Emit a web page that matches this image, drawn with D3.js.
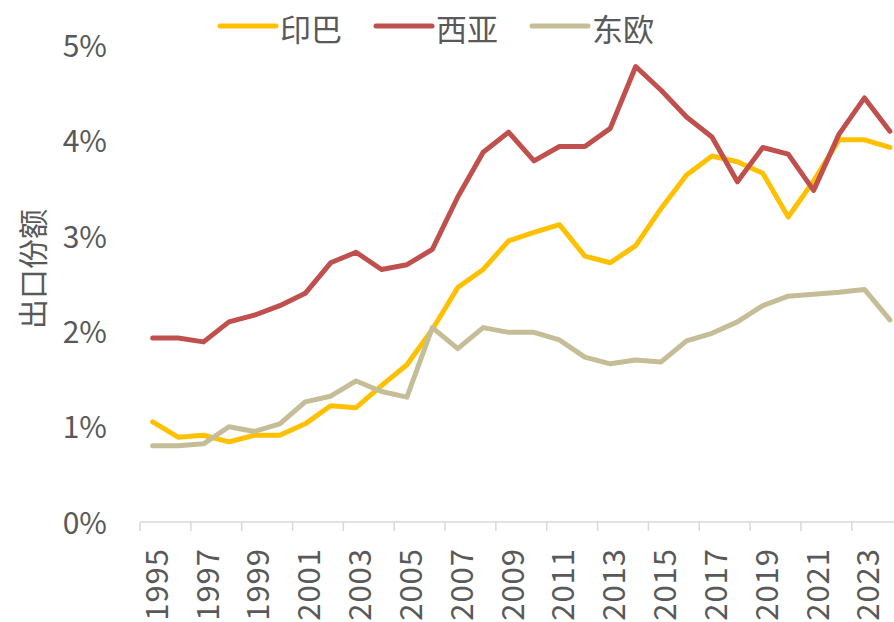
<!DOCTYPE html>
<html>
<head>
<meta charset="utf-8">
<script src="https://cdn.jsdelivr.net/npm/d3@7"></script>
<style>
  html, body { margin: 0; padding: 0; background: #fff; }
  svg { display: block; }
  text { font-family: "Noto Sans CJK SC", "Noto Sans", sans-serif; fill: #595959; }
</style>
</head>
<body>
<svg id="chart" width="894" height="622"></svg>
<script>
const years = d3.range(1995, 2025);
const yinba = [1.05, 0.89, 0.91, 0.84, 0.91, 0.91, 1.03, 1.22, 1.20, 1.43,
               1.65, 2.02, 2.46, 2.65, 2.95, 3.04, 3.12, 2.79, 2.72, 2.90,
               3.29, 3.64, 3.84, 3.78, 3.66, 3.20, 3.58, 4.01, 4.01, 3.93];
const xiya  = [1.93, 1.93, 1.89, 2.10, 2.17, 2.27, 2.40, 2.72, 2.83, 2.65,
               2.70, 2.86, 3.41, 3.88, 4.09, 3.79, 3.94, 3.94, 4.13, 4.78,
               4.53, 4.25, 4.04, 3.57, 3.93, 3.86, 3.48, 4.07, 4.45, 4.10];
const dongou = [0.80, 0.80, 0.82, 1.00, 0.95, 1.03, 1.26, 1.32, 1.48, 1.37,
                1.31, 2.04, 1.82, 2.04, 1.99, 1.99, 1.91, 1.73, 1.66, 1.70,
                1.68, 1.90, 1.98, 2.10, 2.27, 2.37, 2.39, 2.41, 2.44, 2.12];
const seriesNames = ["印巴", "西亚", "东欧"];
const seriesColors = ["#FFC000", "#C0504D", "#C4BD97"];
const yTicks = [0, 1, 2, 3, 4, 5];
const xLabelYears = years.filter(y => y % 2 === 1);

const series = [
  { name: seriesNames[0], color: seriesColors[0], values: yinba },
  { name: seriesNames[1], color: seriesColors[1], values: xiya },
  { name: seriesNames[2], color: seriesColors[2], values: dongou }
];

const svg = d3.select("#chart");
const mLeft = 140, mRight = 902.6, mTop = 45.5, mBottom = 522;

const x = d3.scaleBand().domain(years).range([mLeft, mRight]).padding(0);
const y = d3.scaleLinear().domain([0, 5]).range([mBottom, mTop]);
const cx = yr => x(yr) + x.bandwidth() / 2;

// Y-axis labels
svg.append("g").selectAll("text").data(yTicks).join("text")
  .attr("x", 107)
  .attr("y", d => y(d) - 1.5)
  .attr("text-anchor", "end")
  .attr("dominant-baseline", "central")
  .style("font-size", "30px")
  .text(d => d + "%");

// Y-axis title
svg.append("text")
  .attr("transform", "translate(31,269) rotate(-90)")
  .attr("text-anchor", "middle")
  .attr("dominant-baseline", "central")
  .style("font-size", "30px")
  .text("出口份额");

// X axis line
const axisG = svg.append("g");
axisG.append("line")
  .attr("x1", mLeft).attr("x2", mRight)
  .attr("y1", mBottom).attr("y2", mBottom)
  .attr("stroke", "#d9d9d9").attr("stroke-width", 1.5);

// Ticks between every 2 categories
const tickYears = years.filter((yr, i) => i % 2 === 0);
axisG.selectAll("line.tick").data(tickYears.concat([null])).join("line")
  .attr("class", "tick")
  .attr("x1", d => d === null ? mRight : x(d))
  .attr("x2", d => d === null ? mRight : x(d))
  .attr("y1", mBottom).attr("y2", mBottom + 9)
  .attr("stroke", "#d9d9d9").attr("stroke-width", 1.5);

// X labels (rotated)
svg.append("g").selectAll("text").data(xLabelYears).join("text")
  .attr("transform", d => `translate(${cx(d) + 1.5},548) rotate(-90)`)
  .attr("text-anchor", "end")
  .attr("dominant-baseline", "central")
  .style("font-size", "31px")
  .style("letter-spacing", "1px")
  .text(d => d);

// Lines
const line = d3.line()
  .x((d, i) => cx(years[i]))
  .y(d => y(d));

svg.append("g").selectAll("path").data(series).join("path")
  .attr("d", d => line(d.values))
  .attr("fill", "none")
  .attr("stroke", d => d.color)
  .attr("stroke-width", 5)
  .attr("stroke-linejoin", "round")
  .attr("stroke-linecap", "round");

// Legend
const legendX = [220, 376, 532];
const lg = svg.append("g").selectAll("g").data(series).join("g")
  .attr("transform", (d, i) => `translate(${legendX[i]},26)`);
lg.append("line")
  .attr("x1", 0).attr("x2", 56).attr("y1", 0).attr("y2", 0)
  .attr("stroke", d => d.color).attr("stroke-width", 5)
  .attr("stroke-linecap", "round");
lg.append("text")
  .attr("x", 60).attr("y", 1)
  .attr("dominant-baseline", "central")
  .style("font-size", "31px")
  .text(d => d.name);
</script>
</body>
</html>
